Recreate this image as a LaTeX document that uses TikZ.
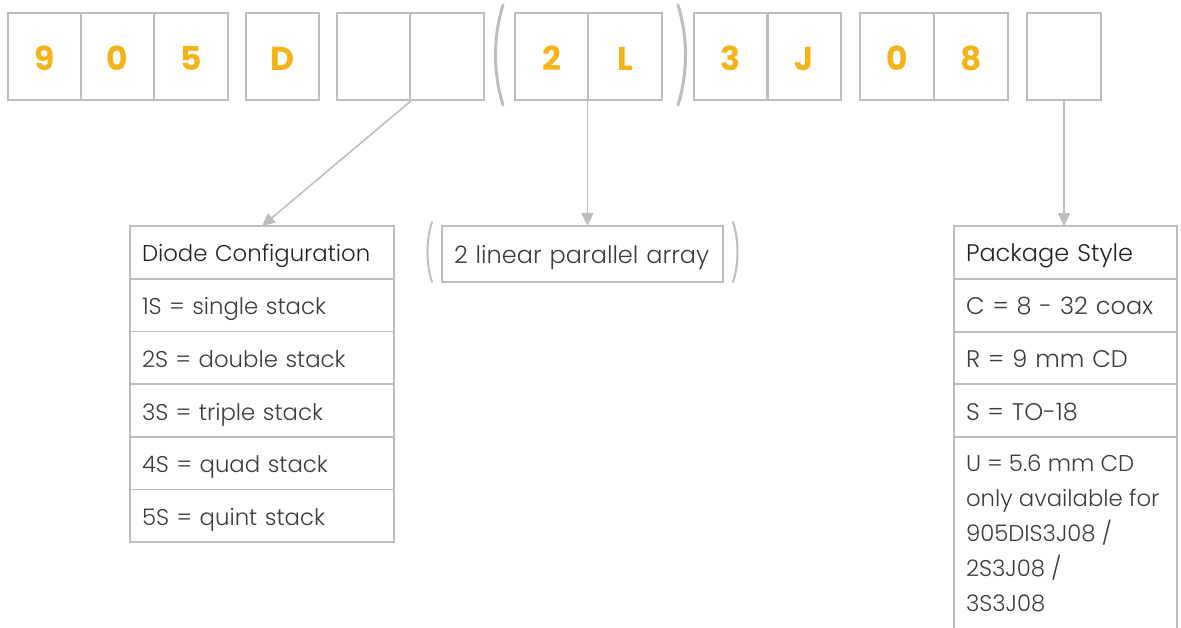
\documentclass[tikz,border=0pt]{standalone}
\usepackage{fontspec}
\setmainfont{Poppins}
\newfontfamily\slimfont{Poppins}[UprightFont={* Light}]
\usetikzlibrary{arrows.meta}
\definecolor{linegray}{HTML}{BEBEC2}
\definecolor{gold}{HTML}{F4B418}
\definecolor{ink}{HTML}{3C3C3E}
\definecolor{headink}{HTML}{232323}

\begin{document}
\begin{tikzpicture}[x=1pt,y=-1pt]
	\tikzstyle{digit} = [rectangle, draw=linegray, line width=1.6pt, minimum width=73.5pt, minimum height=87pt, text height=29pt, text depth=0pt, text=gold, font=\fontsize{33}{35}\selectfont\bfseries]
	\tikzstyle{cell} = [rectangle, draw=linegray, line width=1.6pt, outer sep=0pt, minimum height=52.7pt, inner xsep=12pt, text height=21pt, text depth=2pt, align=left, text=ink, font=\slimfont\fontsize{24}{35}\selectfont]
	\tikzstyle{small} = [font=\slimfont\fontsize{22.8}{35}\selectfont]
	\tikzstyle{connector} = [draw=linegray, line width=1.6pt, -{Triangle[length=13pt,width=12pt]}]
	\tikzstyle{paren} = [draw=linegray, line width=3pt, line cap=round]
	\useasboundingbox (0,0) rectangle (1181,628);
	% part number boxes
	\node [digit] at (44.5,56.5) (d9) {9};
	\node [digit] at (117.5,56.5) (d0) {0};
	\node [digit] at (191,56.5) (d5) {5};
	\node [digit] at (282.5,56.5) (dD) {D};
	\node [digit] at (373.5,56.5) (conf1) {};
	\node [digit] at (447,56.5) (conf2) {};
	\node [digit] at (551.5,56.5) (d2) {2};
	\node [digit] at (625,56.5) (dL) {L};
	\node [digit] at (730.5,56.5) (d3) {3};
	\node [digit] at (804.5,56.5) (dJ) {J};
	\node [digit] at (897,56.5) (d0b) {0};
	\node [digit] at (971,56.5) (d8) {8};
	\node [digit] at (1064,56.5) (pkg) {};
	\draw [paren] (503,5) .. controls (493,38) and (493,72) .. (503,105);
	\draw [paren] (678,5) .. controls (688,38) and (688,72) .. (678,105);
	% diode configuration table
	\node [cell, small, text width=240pt, text=headink] at (262,252.5) (diohead) {Diode Configuration};
	\node [cell, small, text width=240pt] at (262,305.2) (dio1) {1S = single stack};
	\node [cell, small, text width=240pt] at (262,357.8) (dio2) {2S = double stack};
	\node [cell, small, text width=240pt] at (262,410.5) (dio3) {3S = triple stack};
	\node [cell, small, text width=240pt] at (262,463.2) (dio4) {4S = quad stack};
	\node [cell, small, text width=240pt] at (262,515.8) (dio5) {5S = quint stack};
	% array option
	\node [cell, text width=257pt, minimum height=56pt] at (582.5,254) (array) {2 linear parallel array};
	\draw [paren, line width=2pt] (432,222) .. controls (426,240) and (426,264) .. (432,282);
	\draw [paren, line width=2pt] (733,222) .. controls (739,240) and (739,264) .. (733,282);
	% package style table
	\node [cell, text width=199pt, text=headink] at (1065.5,252.5) (pkghead) {Package Style};
	\node [cell, text width=199pt] at (1065.5,305.5) (pkgC) {C = 8 - 32 coax};
	\node [cell, text width=199pt] at (1065.5,358) (pkgR) {R = 9 mm CD};
	\node [cell, text width=199pt] at (1065.5,410.5) (pkgS) {S = TO-18};
	\node [cell, small, draw=none, text height=, text depth=, anchor=north west, inner ysep=8pt] at (954,447) (pkgU) {U = 5.6 mm CD\\only available for\\905DIS3J08 /\\2S3J08 /\\3S3J08};
	\coordinate (pkgend) at (1177,628);
	\draw [linegray, line width=1.6pt] (pkgS.south west) -- (pkgS.south west |- pkgend);
	\draw [linegray, line width=1.6pt] (pkgS.south east) -- (pkgS.south east |- pkgend);
	% pointers
	\path [connector] (conf1.south east) -- (diohead.north);
	\path [connector] (dL.south west) -- (dL.south west |- array.north);
	\path [connector] (pkg.south) -- (pkg.south |- pkghead.north);
\end{tikzpicture}
\end{document}
